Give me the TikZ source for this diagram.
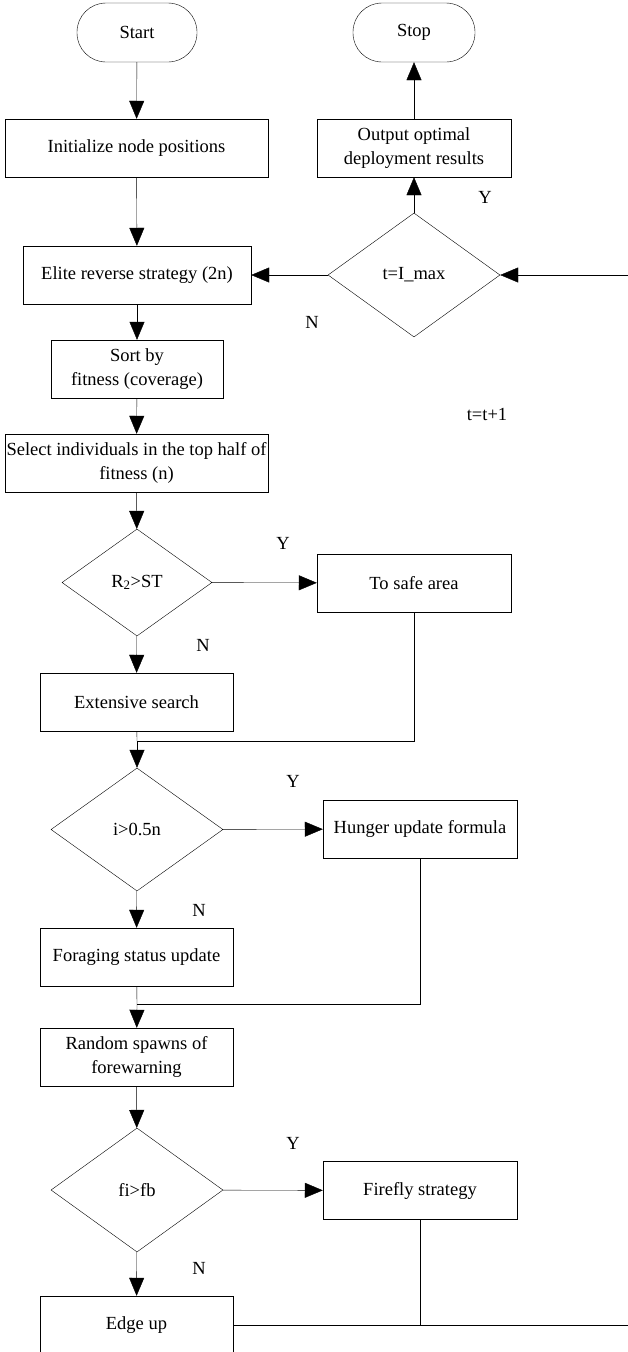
\documentclass[tikz,border=0pt]{standalone}
\usepackage{fontspec}
\setmainfont{Liberation Serif}
\usetikzlibrary{
  shapes,       % Shape "diamond"
  arrows.meta,
  positioning,
}
\tikzset{
  font=\fontsize{18.5}{24}\selectfont,
  line width=1pt,
  >={Triangle[length=18pt,width=15pt]},
  my term/.style={
    draw,
    rectangle,
    rounded corners=29pt,
    minimum height=59pt,
    inner sep=0pt
  },
  my box/.style={
    draw,
    rectangle,
    minimum height=58pt,
    inner sep=0pt,
    align=center
  },
  my test/.style={
    draw,
    diamond,
    aspect=1.4,
    inner sep=0pt
  },
  my lbl/.style={
    inner sep=0pt
  }
}

\begin{document}
\begin{tikzpicture}[x=1pt,y=-1pt]
\useasboundingbox (0,0) rectangle (628,1352);
% main column
\node[my term,minimum width=120pt] (start)  at (137,32.5)   {Start};
\node[my box,minimum width=263pt]  (init)   at (136.5,148)  {Initialize node positions};
\node[my box,minimum width=228pt]  (elite)  at (137,275)    {Elite reverse strategy (2n)};
\node[my box,minimum width=172pt]  (sort)   at (137,369)    {Sort by\\fitness (coverage)};
\node[my box,minimum width=263pt]  (select) at (136.5,463)  {Select individuals in the top half of\\fitness (n)};
\node[my test,minimum width=150pt,minimum height=107pt] (rst) at (137,582.5) {R\textsubscript{2}>ST};
\node[my box,minimum width=193pt]  (ext)    at (136.5,702)  {Extensive search};
\node[my test,minimum width=172pt,minimum height=123pt] (ihalf) at (137,829.5) {i>0.5n};
\node[my box,minimum width=193pt]  (forage) at (136.5,957)  {Foraging status update};
\node[my box,minimum width=193pt]  (random) at (136.5,1057) {Random spawns of\\forewarning};
\node[my test,minimum width=172pt,minimum height=124pt] (fifb) at (137,1190) {fi>fb};
\node[my box,minimum width=193pt]  (edge)   at (136.5,1325) {Edge up};
% right column
\node[my term,minimum width=122pt] (stop)   at (414,32.5)   {Stop};
\node[my box,minimum width=194pt]  (output) at (414,148)    {Output optimal\\deployment results};
\node[my test,minimum width=172pt,minimum height=124pt] (tmax) at (414,275) {t=I\_max};
\node[my box,minimum width=194pt]  (safe)   at (414,583)    {To safe area};
\node[my box,minimum width=194pt]  (hunger) at (420,829)    {Hunger update formula};
\node[my box,minimum width=194pt]  (firefly) at (420,1190.5) {Firefly strategy};
% labels
\node[my lbl] (yA) at (485,197)  {Y};
\node[my lbl] (nA) at (312,322)  {N};
\node[my lbl] (tt) at (487,414)  {t=t+1};
\node[my lbl] (yB) at (283,543)  {Y};
\node[my lbl] (nB) at (203,645)  {N};
\node[my lbl] (yC) at (293,781)  {Y};
\node[my lbl] (nC) at (199,910)  {N};
\node[my lbl] (yD) at (293,1143) {Y};
\node[my lbl] (nD) at (199,1268) {N};
% joints
\coordinate (j1)    at (137,741);
\coordinate (j2)    at (137,1004);
\coordinate (j3)    at (420,1325);
\coordinate (loopR) at (628,1325);
\coordinate (loopT) at (628,275);

\path[->] (start)  edge (init)
          (init)   edge (elite)
          (elite)  edge (sort)
          (sort)   edge (select)
          (select) edge (rst)
          (rst)    edge (ext)
                   edge (safe)
          (j1)     edge (ihalf)
          (ihalf)  edge (forage)
                   edge (hunger)
          (j2)     edge (random)
          (random) edge (fifb)
          (fifb)   edge (edge)
                   edge (firefly)
          (loopT)  edge (tmax)
          (tmax)   edge (elite)
                   edge (output)
          (output) edge (stop);
\draw (ext) -- (j1);
\draw (safe) |- (j1);
\draw (forage) -- (j2);
\draw (hunger) |- (j2);
\draw (edge) -- (loopR);
\draw (firefly) -- (j3);
\end{tikzpicture}
\end{document}
